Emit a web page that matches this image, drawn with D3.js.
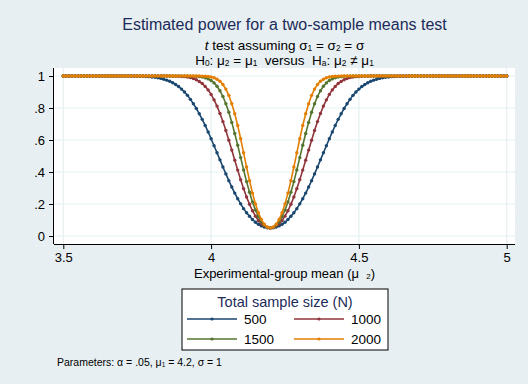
<!DOCTYPE html>
<html>
<head>
<meta charset="utf-8">
<script src="https://cdn.jsdelivr.net/npm/d3@7"></script>
<style>
  body { margin: 0; background: #fff; }
  svg { display: block; font-family: "Liberation Sans", Arial, sans-serif; }
</style>
</head>
<body>
<svg width="528" height="384"></svg>
<script>
// experimental-group mean grid (mu2), 3.5 to 5 by .01
var mu2 = [
  3.50, 3.51, 3.52, 3.53, 3.54, 3.55, 3.56, 3.57, 3.58, 3.59,
  3.60, 3.61, 3.62, 3.63, 3.64, 3.65, 3.66, 3.67, 3.68, 3.69,
  3.70, 3.71, 3.72, 3.73, 3.74, 3.75, 3.76, 3.77, 3.78, 3.79,
  3.80, 3.81, 3.82, 3.83, 3.84, 3.85, 3.86, 3.87, 3.88, 3.89,
  3.90, 3.91, 3.92, 3.93, 3.94, 3.95, 3.96, 3.97, 3.98, 3.99,
  4.00, 4.01, 4.02, 4.03, 4.04, 4.05, 4.06, 4.07, 4.08, 4.09,
  4.10, 4.11, 4.12, 4.13, 4.14, 4.15, 4.16, 4.17, 4.18, 4.19,
  4.20, 4.21, 4.22, 4.23, 4.24, 4.25, 4.26, 4.27, 4.28, 4.29,
  4.30, 4.31, 4.32, 4.33, 4.34, 4.35, 4.36, 4.37, 4.38, 4.39,
  4.40, 4.41, 4.42, 4.43, 4.44, 4.45, 4.46, 4.47, 4.48, 4.49,
  4.50, 4.51, 4.52, 4.53, 4.54, 4.55, 4.56, 4.57, 4.58, 4.59,
  4.60, 4.61, 4.62, 4.63, 4.64, 4.65, 4.66, 4.67, 4.68, 4.69,
  4.70, 4.71, 4.72, 4.73, 4.74, 4.75, 4.76, 4.77, 4.78, 4.79,
  4.80, 4.81, 4.82, 4.83, 4.84, 4.85, 4.86, 4.87, 4.88, 4.89,
  4.90, 4.91, 4.92, 4.93, 4.94, 4.95, 4.96, 4.97, 4.98, 4.99,
  5.00
];

var sampleSizes = [500, 1000, 1500, 2000];

var power500 = [
  1, 1, 1, 1, 1, 1, 1, 1, 1, 1,
  1, 1, 1, 1, 1, 1, 1, 1, 1, 1,
  1, 1, 1, 1, .999, .999, .998, .998, .997, .996,
  .994, .992, .989, .985, .980, .974, .967, .958, .947, .934,
  .918, .900, .879, .854, .827, .797, .764, .729, .691, .650,
  .608, .564, .520, .476, .431, .388, .346, .306, .268, .233,
  .201, .171, .145, .123, .103, .086, .073, .063, .056, .051,
  .050, .051, .056, .063, .073, .086, .103, .123, .145, .171,
  .201, .233, .268, .306, .346, .388, .431, .476, .520, .564,
  .608, .650, .691, .729, .764, .797, .827, .854, .879, .900,
  .918, .934, .947, .958, .967, .974, .980, .985, .989, .992,
  .994, .996, .997, .998, .998, .999, .999, 1, 1, 1,
  1, 1, 1, 1, 1, 1, 1, 1, 1, 1,
  1, 1, 1, 1, 1, 1, 1, 1, 1, 1,
  1, 1, 1, 1, 1, 1, 1, 1, 1, 1,
  1
];

var power1000 = [
  1, 1, 1, 1, 1, 1, 1, 1, 1, 1,
  1, 1, 1, 1, 1, 1, 1, 1, 1, 1,
  1, 1, 1, 1, 1, 1, 1, 1, 1, 1,
  1, 1, 1, 1, 1, 1, 1, .999, .999, .998,
  .997, .996, .993, .990, .984, .977, .966, .953, .935, .913,
  .885, .851, .812, .766, .715, .659, .599, .537, .474, .412,
  .352, .296, .244, .198, .158, .124, .097, .076, .062, .053,
  .050, .053, .062, .076, .097, .124, .158, .198, .244, .296,
  .352, .412, .474, .537, .599, .659, .715, .766, .812, .851,
  .885, .913, .935, .953, .966, .977, .984, .990, .993, .996,
  .997, .998, .999, .999, 1, 1, 1, 1, 1, 1,
  1, 1, 1, 1, 1, 1, 1, 1, 1, 1,
  1, 1, 1, 1, 1, 1, 1, 1, 1, 1,
  1, 1, 1, 1, 1, 1, 1, 1, 1, 1,
  1, 1, 1, 1, 1, 1, 1, 1, 1, 1,
  1
];

var power1500 = [
  1, 1, 1, 1, 1, 1, 1, 1, 1, 1,
  1, 1, 1, 1, 1, 1, 1, 1, 1, 1,
  1, 1, 1, 1, 1, 1, 1, 1, 1, 1,
  1, 1, 1, 1, 1, 1, 1, 1, 1, 1,
  1, 1, 1, .999, .999, .998, .996, .994, .989, .982,
  .972, .957, .936, .908, .872, .827, .773, .710, .641, .567,
  .490, .413, .340, .273, .213, .162, .121, .089, .067, .054,
  .050, .054, .067, .089, .121, .162, .213, .273, .340, .413,
  .490, .567, .641, .710, .773, .827, .872, .908, .936, .957,
  .972, .982, .989, .994, .996, .998, .999, .999, 1, 1,
  1, 1, 1, 1, 1, 1, 1, 1, 1, 1,
  1, 1, 1, 1, 1, 1, 1, 1, 1, 1,
  1, 1, 1, 1, 1, 1, 1, 1, 1, 1,
  1, 1, 1, 1, 1, 1, 1, 1, 1, 1,
  1, 1, 1, 1, 1, 1, 1, 1, 1, 1,
  1
];

var power2000 = [
  1, 1, 1, 1, 1, 1, 1, 1, 1, 1,
  1, 1, 1, 1, 1, 1, 1, 1, 1, 1,
  1, 1, 1, 1, 1, 1, 1, 1, 1, 1,
  1, 1, 1, 1, 1, 1, 1, 1, 1, 1,
  1, 1, 1, 1, 1, 1, 1, .999, .998, .997,
  .994, .989, .980, .967, .947, .918, .879, .827, .764, .691,
  .608, .520, .431, .346, .268, .201, .145, .103, .073, .056,
  .050, .056, .073, .103, .145, .201, .268, .346, .431, .520,
  .608, .691, .764, .827, .879, .918, .947, .967, .980, .989,
  .994, .997, .998, .999, 1, 1, 1, 1, 1, 1,
  1, 1, 1, 1, 1, 1, 1, 1, 1, 1,
  1, 1, 1, 1, 1, 1, 1, 1, 1, 1,
  1, 1, 1, 1, 1, 1, 1, 1, 1, 1,
  1, 1, 1, 1, 1, 1, 1, 1, 1, 1,
  1, 1, 1, 1, 1, 1, 1, 1, 1, 1,
  1
];

var xTicks = [3.5, 4, 4.5, 5];
var yTicks = [0, .2, .4, .6, .8, 1];
var yTickLabels = ["0", ".2", ".4", ".6", ".8", "1"];

// stata s2color-ish palette
var colors = ["#1a476f", "#90353b", "#55752f", "#e37e00"];
var seriesValues = [power500, power1000, power1500, power2000];

var svg = d3.select("svg");
var W = 528, H = 384;
var navy = "#1c2b59";

// graph region: light bluish gray with a faint dot pattern
svg.append("rect").attr("width", W).attr("height", H).attr("fill", "#e7eff2");
var defs = svg.append("defs");
var pat = defs.append("pattern")
    .attr("id", "dots")
    .attr("width", 8)
    .attr("height", 10)
    .attr("patternUnits", "userSpaceOnUse");
pat.append("rect").attr("x", 4).attr("y", 5).attr("width", 1).attr("height", 1).attr("fill", "#fbfdfd");
svg.append("rect").attr("width", W).attr("height", H).attr("fill", "url(#dots)");

var plotL = 54, plotR = 515, plotT = 68, plotB = 244;

svg.append("rect")
    .attr("x", plotL).attr("y", plotT)
    .attr("width", plotR - plotL).attr("height", plotB - plotT)
    .attr("fill", "#fff");

var x = d3.scaleLinear().domain([3.5, 5]).range([63.3, 506.7]);
var y = d3.scaleLinear().domain([0, 1]).range([236, 76]);

// grid
svg.append("g").selectAll("line").data(xTicks).enter().append("line")
    .attr("x1", d => x(d)).attr("x2", d => x(d))
    .attr("y1", plotT).attr("y2", plotB)
    .attr("stroke", "#e6eff1").attr("stroke-width", 1.2);
svg.append("g").selectAll("line").data(yTicks).enter().append("line")
    .attr("x1", plotL).attr("x2", plotR)
    .attr("y1", d => y(d)).attr("y2", d => y(d))
    .attr("stroke", "#e6eff1").attr("stroke-width", 1.2);

// axes
var xAxis = d3.axisBottom(x).tickValues(xTicks).tickSize(5).tickPadding(4)
    .tickFormat(d3.format("~g"));
var gx = svg.append("g").attr("transform", "translate(0," + plotB + ")").call(xAxis);
gx.select(".domain").attr("d", "M" + plotL + ",0.5H" + plotR).attr("stroke", "#000");

var yAxis = d3.axisLeft(y).tickValues(yTicks).tickSize(5).tickPadding(4)
    .tickFormat((d, i) => yTickLabels[i]);
var gy = svg.append("g").attr("transform", "translate(" + plotL + ",0)").call(yAxis);
gy.select(".domain").attr("d", "M-0.5," + plotT + "V" + plotB).attr("stroke", "#000");

[gx, gy].forEach(function(g) {
    g.selectAll("text").attr("font-size", 13).attr("fill", "#000")
        .attr("font-family", "Liberation Sans, Arial, sans-serif");
    g.selectAll(".tick line").attr("stroke", "#000");
});

// curves
var line = d3.line()
    .x((d, i) => x(mu2[i]))
    .y(d => y(d));

seriesValues.forEach(function(vals, s) {
    var g = svg.append("g");
    g.append("path")
        .attr("d", line(vals))
        .attr("fill", "none")
        .attr("stroke", colors[s])
        .attr("stroke-width", 1.6);
    g.selectAll("circle").data(vals).enter().append("circle")
        .attr("cx", (d, i) => x(mu2[i]))
        .attr("cy", d => y(d))
        .attr("r", 1.7)
        .attr("fill", colors[s]);
});

// text helper: parts are [text, "sub"|"it"|null]
function richText(parent, px, py, size, fill, parts, anchor) {
    var t = parent.append("text")
        .attr("x", px).attr("y", py)
        .attr("font-size", size)
        .attr("fill", fill)
        .attr("text-anchor", anchor || "middle");
    parts.forEach(function(p) {
        var sp = t.append("tspan").text(p[0]);
        if (p[1] == "sub") {
            sp.attr("font-size", size * 0.62).attr("baseline-shift", "-18%");
        } else if (p[1] == "it") {
            sp.attr("font-style", "italic");
        }
    });
    return t;
}

var cx = (plotL + plotR) / 2;

svg.append("text")
    .attr("x", cx).attr("y", 30)
    .attr("text-anchor", "middle")
    .attr("font-size", 16)
    .attr("fill", navy)
    .text("Estimated power for a two-sample means test");

richText(svg, cx, 50, 13.5, "#000", [
    ["t", "it"], [" test assuming \u03c3"], ["1", "sub"], [" = \u03c3"], ["2", "sub"], [" = \u03c3"]
]);

richText(svg, cx, 65, 13.5, "#000", [
    ["H"], ["0", "sub"], [": \u03bc"], ["2", "sub"], [" = \u03bc"], ["1", "sub"],
    ["\u00a0 versus \u00a0H"], ["a", "sub"], [": \u03bc"], ["2", "sub"], [" \u2260 \u03bc"], ["1", "sub"]
]);

richText(svg, cx, 278, 13, "#000", [
    ["Experimental-group mean (\u03bc \u00a0"], ["2", "sub"], [")"]
]);

// legend
var lg = svg.append("g");
lg.append("rect")
    .attr("x", 182).attr("y", 289)
    .attr("width", 206).attr("height", 61)
    .attr("fill", "#fff").attr("stroke", "#000").attr("stroke-width", 1);
lg.append("text")
    .attr("x", 285).attr("y", 307)
    .attr("text-anchor", "middle")
    .attr("font-size", 14.5)
    .attr("fill", navy)
    .text("Total sample size (N)");

var legendPos = [[187, 319], [294, 319], [187, 339], [294, 339]];
sampleSizes.forEach(function(n, i) {
    var p = legendPos[i];
    lg.append("line")
        .attr("x1", p[0]).attr("x2", p[0] + 50)
        .attr("y1", p[1]).attr("y2", p[1])
        .attr("stroke", colors[i]).attr("stroke-width", 1.4);
    lg.append("circle")
        .attr("cx", p[0] + 25).attr("cy", p[1]).attr("r", 1.6)
        .attr("fill", colors[i]);
    lg.append("text")
        .attr("x", p[0] + 57).attr("y", p[1] + 5)
        .attr("font-size", 13.5)
        .attr("fill", "#000")
        .text(n);
});

richText(svg, 57, 366, 10.5, "#000", [
    ["Parameters: \u03b1 = .05, \u03bc"], ["1", "sub"], [" = 4.2, \u03c3 = 1"]
], "start");
</script>
</body>
</html>
